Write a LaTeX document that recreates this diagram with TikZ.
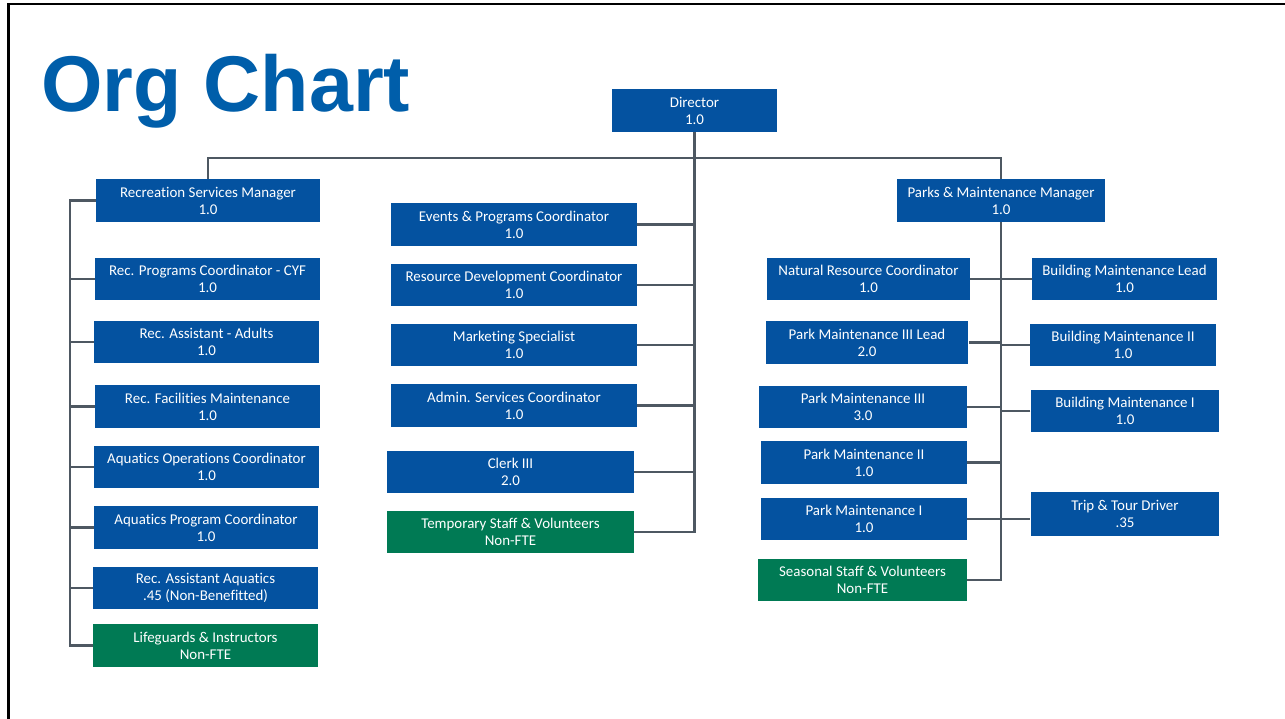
\documentclass[tikz,border=0pt]{standalone}
\usepackage{fontspec}
\newfontfamily\boxfont[Ligatures=NoCommon]{Carlito}
\newfontfamily\titlefont{Liberation Sans}
\definecolor{orgblue}{RGB}{4,82,160}
\definecolor{orggreen}{RGB}{0,122,84}
\definecolor{titleblue}{RGB}{0,94,170}
\definecolor{linkgray}{RGB}{78,88,98}
\tikzset{
  post/.style={fill=orgblue, text=white, align=center, inner sep=0pt,
    font=\boxfont\fontsize{8.5}{9.7}\selectfont,
    minimum height=0.86cm, minimum width=#1},
  temp/.style={post=#1, fill=orggreen},
  link/.style={draw=linkgray, line width=1.3pt},
}
\begin{document}
\begin{tikzpicture}[x=0.02cm,y=-0.02cm]
\useasboundingbox (0,0) rectangle (1285,719);
\draw[line width=1.6pt] (1285,4) -- (8.7,4) -- (8.7,719);

\node[font=\titlefont\bfseries\fontsize{45}{45}\selectfont, text=titleblue,
  anchor=base west, inner sep=0pt] (title) at (41,112) {Org Chart};

% top
\node[post=3.3cm] (dir) at (694.5,110.5) {Director\\1.0};
\node[post=4.48cm] (rsm) at (208,200.5) {Recreation Services Manager\\1.0};
\node[post=4.18cm] (pmm) at (1001,200.5) {Parks \& Maintenance Manager\\1.0};

% recreation
\node[post=4.5cm] (rpc) at (207.5,279) {Rec. Programs Coordinator - CYF\\1.0};
\node[post=4.5cm] (raa) at (206.5,342) {Rec. Assistant - Adults\\1.0};
\node[post=4.5cm] (rfm) at (207.5,406.5) {Rec. Facilities Maintenance\\1.0};
\node[post=4.5cm] (aoc) at (206.5,467) {Aquatics Operations Coordinator\\1.0};
\node[post=4.48cm] (apc) at (206,527.5) {Aquatics Program Coordinator\\1.0};
\node[post=4.5cm] (raq) at (205.5,588) {Rec. Assistant Aquatics\\.45 (Non-Benefitted)};
\node[temp=4.5cm] (lgi) at (205.5,645.5) {Lifeguards \& Instructors\\Non-FTE};

% director's staff
\node[post=4.92cm] (epc) at (514,224.5) {Events \& Programs Coordinator\\1.0};
\node[post=4.92cm] (rdc) at (514,285) {Resource Development Coordinator\\1.0};
\node[post=4.92cm] (mks) at (514,345) {Marketing Specialist\\1.0};
\node[post=4.92cm] (asc) at (514,405.5) {Admin. Services Coordinator\\1.0};
\node[post=4.94cm] (clk) at (510.5,472) {Clerk III\\2.0};
\node[temp=4.94cm] (tsv) at (510.5,532) {Temporary Staff \& Volunteers\\Non-FTE};

% parks
\node[post=4.06cm] (nrc) at (868.5,279) {Natural Resource Coordinator\\1.0};
\node[post=4.06cm] (pm3l) at (867,342.5) {Park Maintenance III Lead\\2.0};
\node[post=4.16cm] (pm3) at (863,407) {Park Maintenance III\\3.0};
\node[post=4.12cm] (pm2) at (864,462.5) {Park Maintenance II\\1.0};
\node[post=4.12cm] (pm1) at (864,519) {Park Maintenance I\\1.0};
\node[temp=4.18cm] (ssv) at (862.5,580) {Seasonal Staff \& Volunteers\\Non-FTE};

\node[post=3.7cm] (bml) at (1124.5,279) {Building Maintenance Lead\\1.0};
\node[post=3.71cm] (bm2) at (1123,345) {Building Maintenance II\\1.0};
\node[post=3.77cm, minimum height=0.84cm] (bm1) at (1125,411) {Building Maintenance I\\1.0};
\node[post=3.77cm, minimum height=0.88cm] (ttd) at (1125,514) {Trip \& Tour Driver\\.35};

% lines
\coordinate (bus) at (695,158);
\coordinate (lspine) at (70,0);
\draw[link] (rsm.north) |- (bus) -| (pmm.north);
\draw[link] (dir.south) |- (tsv.east);
\draw[link] (epc.east) -- (epc.east -| dir.south);
\draw[link] (rdc.east) -- (rdc.east -| dir.south);
\draw[link] (mks.east) -- (mks.east -| dir.south);
\draw[link] (asc.east) -- (asc.east -| dir.south);
\draw[link] (clk.east) -- (clk.east -| dir.south);

\draw[link] (rsm.west) -- (rsm.west -| lspine) |- (lgi.west);
\draw[link] (rpc.west) -- (rpc.west -| lspine);
\draw[link] (raa.west) -- (raa.west -| lspine);
\draw[link] (rfm.west) -- (rfm.west -| lspine);
\draw[link] (aoc.west) -- (aoc.west -| lspine);
\draw[link] (apc.west) -- (apc.west -| lspine);
\draw[link] (raq.west) -- (raq.west -| lspine);

\draw[link] (pmm.south) |- (ssv.east);
\draw[link] (nrc.east) -- (bml.west);
\draw[link] (pm3l.east) -- (pm3l.east -| pmm.south);
\draw[link] (pm3.east) -- (pm3.east -| pmm.south);
\draw[link] (pm2.east) -- (pm2.east -| pmm.south);
\draw[link] (pm1.east) -- (pm1.east -| ttd.west);
\draw[link] (bm2.west) -- (bm2.west -| pmm.south);
\draw[link] (bm1.west) -- (bm1.west -| pmm.south);
\end{tikzpicture}
\end{document}
